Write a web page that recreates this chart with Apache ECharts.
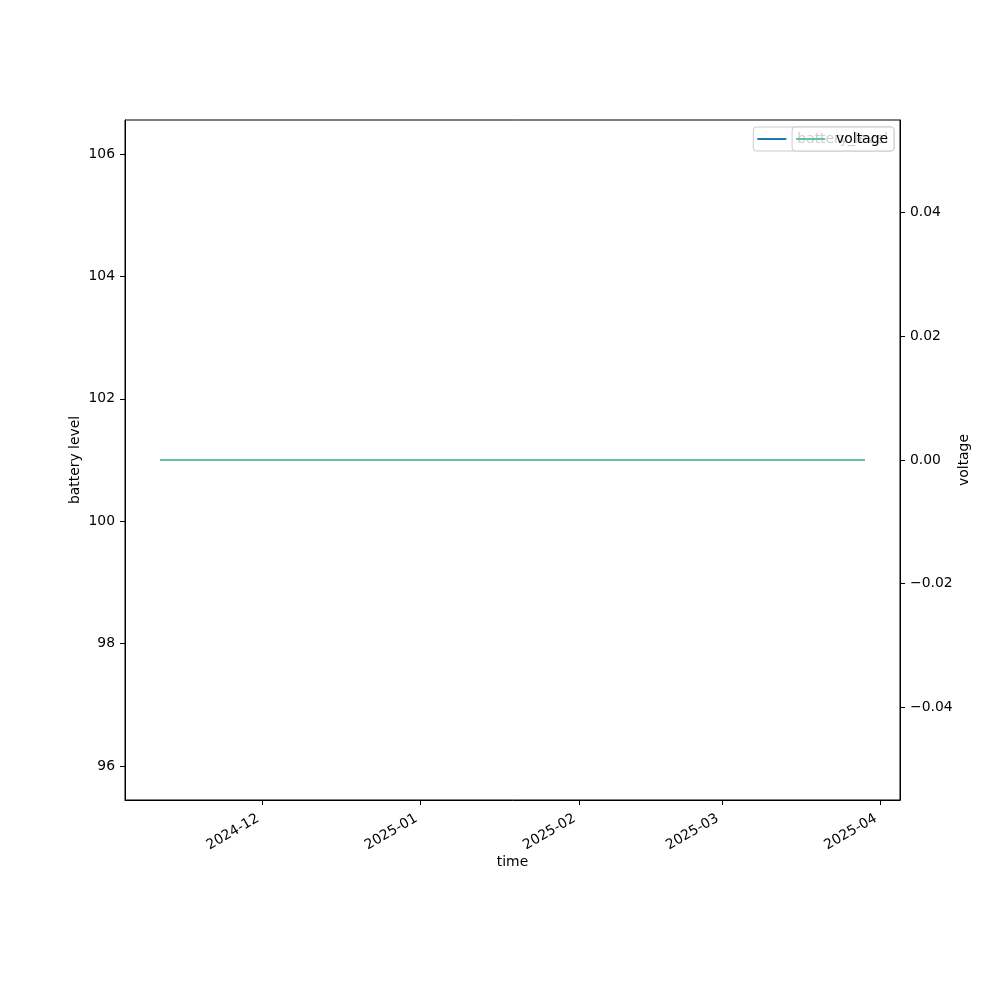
<!DOCTYPE html>
<html>
<head>
<meta charset="utf-8">
<script src="https://cdn.jsdelivr.net/npm/echarts@6/dist/echarts.min.js"></script>
<style>html,body{margin:0;padding:0;background:#fff}#c{width:1000px;height:1000px}</style>
</head>
<body>
<div id="c"></div>
<script>
// ---- data ----
var dates = ['2024-11-11', '2025-03-29'];
var batteryLevel = [101, 101];
var voltage = [0, 0];
var xTickLabels = ['2024-12', '2025-01', '2025-02', '2025-03', '2025-04'];
var leftTicks = [96, 98, 100, 102, 104, 106];
var rightTicks = [-0.04, -0.02, 0, 0.02, 0.04];
var leftRange = [95.444, 106.556];
var rightRange = [-0.055, 0.055];

var FONT = 'DejaVu Sans';
var FS = 13.9;

function ts(s) { return new Date(s + (s.length === 7 ? '-01' : '') + 'T00:00:00Z').getTime(); }
var t0 = ts(dates[0]), t1 = ts(dates[dates.length - 1]);
var pad = (t1 - t0) * 0.05;
var xTickVals = xTickLabels.map(ts);

var chart = echarts.init(document.getElementById('c'), null, {renderer: 'canvas'});
var tickStyle = {show: true, inside: false, length: 5, lineStyle: {color: '#000', width: 1}};
function legendCfg(name, z) {
  return {
    data: [name], right: 106, top: 127, orient: 'horizontal',
    backgroundColor: 'rgba(255,255,255,0.8)', borderColor: '#cccccc', borderWidth: 1, borderRadius: 3,
    padding: [5, 6, 5, 3], itemWidth: 29, itemHeight: 14, z: z,
    itemStyle: {opacity: 0},
    textStyle: {fontFamily: FONT, fontSize: FS, color: '#000', padding: [0, 0, 0, 6]}
  };
}
var option = {
  animation: false,
  backgroundColor: '#fff',
  textStyle: {fontFamily: FONT},
  grid: {left: 125, right: 100, top: 120, bottom: 200, show: true, borderColor: '#000', borderWidth: 1, backgroundColor: 'transparent', containLabel: false},
  legend: [legendCfg('battery_level', 5), legendCfg('voltage', 6)],
  xAxis: {
    type: 'value', min: t0 - pad, max: t1 + pad, scale: true,
    name: 'time', nameLocation: 'middle', nameGap: 55, nameMoveOverlap: false,
    nameTextStyle: {fontFamily: FONT, fontSize: FS, color: '#000'},
    axisLine: {show: true, onZero: false, lineStyle: {color: '#000', width: 1}},
    axisTick: Object.assign({customValues: xTickVals}, tickStyle),
    axisLabel: {
      customValues: xTickVals, rotate: 30, margin: 15, padding: [0, 5, 0, 0],
      fontFamily: FONT, fontSize: FS, color: '#000',
      formatter: function (v) {
        var i = xTickVals.indexOf(v);
        if (i >= 0) return xTickLabels[i];
        var d = new Date(v);
        return d.getUTCFullYear() + '-' + String(d.getUTCMonth() + 1).padStart(2, '0');
      }
    },
    splitLine: {show: false}
  },
  yAxis: [
    {
      type: 'value', position: 'left', min: leftRange[0], max: leftRange[1],
      name: 'battery level', nameLocation: 'middle', nameGap: 43, nameRotate: 90, nameMoveOverlap: false,
      nameTextStyle: {fontFamily: FONT, fontSize: FS, color: '#000'},
      axisLine: {show: true, lineStyle: {color: '#000', width: 1}},
      axisTick: Object.assign({customValues: leftTicks}, tickStyle),
      axisLabel: {customValues: leftTicks, margin: 10, fontFamily: FONT, fontSize: FS, color: '#000',
        formatter: function (v) { return String(Math.round(v)); }},
      splitLine: {show: false}
    },
    {
      type: 'value', position: 'right', min: rightRange[0], max: rightRange[1],
      name: 'voltage', nameLocation: 'middle', nameGap: 57, nameRotate: 90, nameMoveOverlap: false,
      nameTextStyle: {fontFamily: FONT, fontSize: FS, color: '#000'},
      axisLine: {show: true, lineStyle: {color: '#000', width: 1}},
      axisTick: Object.assign({customValues: rightTicks}, tickStyle),
      axisLabel: {customValues: rightTicks, margin: 10, fontFamily: FONT, fontSize: FS, color: '#000',
        formatter: function (v) { var s = Math.abs(v).toFixed(2); return (v < -1e-9 ? '\u2212' : '') + s; }},
      splitLine: {show: false}
    }
  ],
  series: [
    {
      name: 'battery_level', type: 'line', yAxisIndex: 0, symbol: 'none', showSymbol: false,
      data: dates.map(function (d, i) { return [ts(d), batteryLevel[i]]; }),
      lineStyle: {color: '#1f77b4', width: 2}, itemStyle: {color: '#1f77b4'}, z: 2
    },
    {
      name: 'voltage', type: 'line', yAxisIndex: 1, symbol: 'none', showSymbol: false,
      data: dates.map(function (d, i) { return [ts(d), voltage[i]]; }),
      lineStyle: {color: '#66c2a5', width: 2}, itemStyle: {color: '#66c2a5'}, z: 3
    }
  ]
};
chart.setOption(option);
</script>
</body>
</html>
